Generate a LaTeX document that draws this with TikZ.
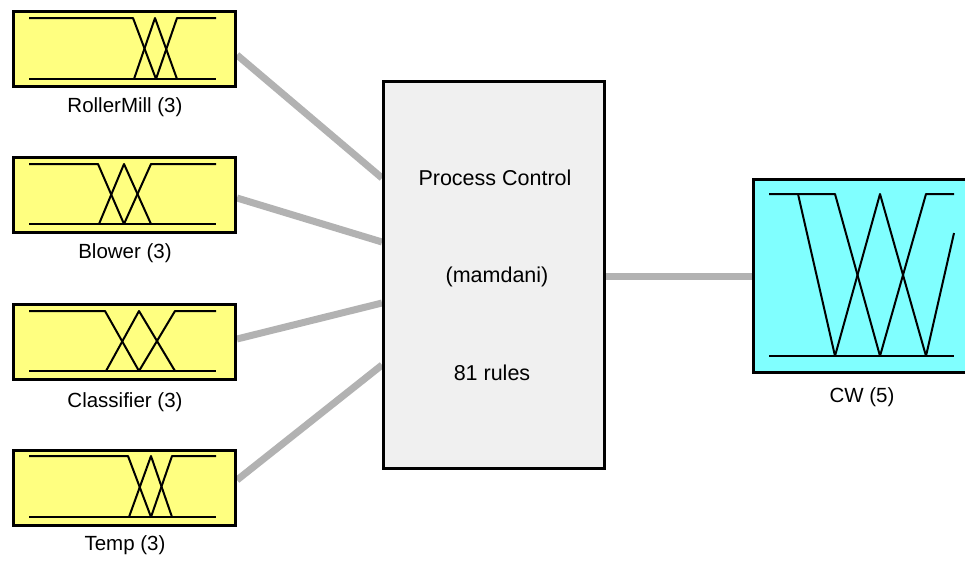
\documentclass[tikz,border=0pt]{standalone}
\usepackage{fontspec}
\setmainfont{Liberation Sans}
\usetikzlibrary{backgrounds}
\definecolor{inputfill}{RGB}{255,255,128}
\definecolor{outputfill}{RGB}{128,255,255}
\definecolor{rulefill}{RGB}{240,240,240}
\definecolor{wire}{RGB}{178,178,178}
\tikzset{
  fisbox/.style={draw=black, line width=3pt, inner sep=0pt, outer sep=0pt},
  inbox/.style={fisbox, fill=inputfill, minimum width=222pt, minimum height=75pt},
  outbox/.style={fisbox, fill=outputfill, minimum width=220pt, minimum height=193pt},
  rulebox/.style={fisbox, fill=rulefill, minimum width=221pt, minimum height=387pt},
  caption/.style={font=\fontsize{20.5}{24}\selectfont, inner sep=0pt},
  ruletext/.style={font=\fontsize{21.5}{25}\selectfont, inner sep=0pt},
  mf/.style={line width=2pt, line join=round},
  wireline/.style={draw=wire, line width=7pt}
}
\begin{document}
\begin{tikzpicture}[x=1pt, y=-1pt]
\useasboundingbox (0,0) rectangle (965,563);

% input variable blocks
\node[inbox] (rm) at (124.5,49) {};
\node[inbox] (bl) at (124.5,195) {};
\node[inbox] (cl) at (124.5,342) {};
\node[inbox] (tp) at (124.5,487.5) {};

% rule block and output block
\node[rulebox] (pc) at (494,275) {};
\node[outbox] (cw) at (863.5,276) {};

% labels
\node[caption] (rmlab) at (125,107) {RollerMill (3)};
\node[caption] (bllab) at (125,253) {Blower (3)};
\node[caption] (cllab) at (125,402) {Classifier (3)};
\node[caption] (tplab) at (125,545) {Temp (3)};
\node[caption] (cwlab) at (862,397) {CW (5)};
\node[ruletext] (pcname) at (495,178) {Process Control};
\node[ruletext] (pctype) at (497,277) {(mamdani)};
\node[ruletext] (pcrules) at (492,373) {81 rules};

% connector end points on the block borders
\coordinate (rm-o) at (237,55);
\coordinate (bl-o) at (237,198);
\coordinate (cl-o) at (237,339);
\coordinate (tp-o) at (237,480);
\coordinate (pc-i1) at (382,178);
\coordinate (pc-i2) at (382,242);
\coordinate (pc-i3) at (382,303);
\coordinate (pc-i4) at (382,365);
\coordinate (pc-o) at (606,276);
\coordinate (cw-i) at (752,276);

\begin{scope}[on background layer]
  \fill[white] (0,0) rectangle (965,563);
  \draw[wireline] (rm-o) -- (pc-i1);
  \draw[wireline] (bl-o) -- (pc-i2);
  \draw[wireline] (cl-o) -- (pc-i3);
  \draw[wireline] (tp-o) -- (pc-i4);
  \draw[wireline] (pc-o) -- (cw-i);
\end{scope}

% membership functions: RollerMill
\draw[mf] (29,79) -- (216,79);
\draw[mf] (29,18) -- (133,18) -- (156,79);
\draw[mf] (134,79) -- (155,18) -- (177,79);
\draw[mf] (156,79) -- (177,18) -- (216,18);

% membership functions: Blower
\draw[mf] (29,224) -- (216,224);
\draw[mf] (29,164) -- (98,164) -- (124,224);
\draw[mf] (99,224) -- (124,164) -- (151,224);
\draw[mf] (124,224) -- (151,164) -- (216,164);

% membership functions: Classifier
\draw[mf] (29,371) -- (216,371);
\draw[mf] (29,311) -- (105,311) -- (139,371);
\draw[mf] (106,371) -- (139,311) -- (175,371);
\draw[mf] (139,371) -- (175,311) -- (216,311);

% membership functions: Temp
\draw[mf] (29,517) -- (216,517);
\draw[mf] (29,456) -- (128,456) -- (151,517);
\draw[mf] (129,517) -- (151,456) -- (172,517);
\draw[mf] (151,517) -- (172,456) -- (216,456);

% membership functions: CW
\draw[mf] (769,356) -- (954,356);
\draw[mf] (769,194) -- (798,194) -- (835,356);
\draw[mf] (798,194) -- (835,194) -- (880,356);
\draw[mf] (835,356) -- (880,194) -- (926,356);
\draw[mf] (880,356) -- (926,194) -- (954,194);
\draw[mf] (926,356) -- (954,233);
\end{tikzpicture}
\end{document}
